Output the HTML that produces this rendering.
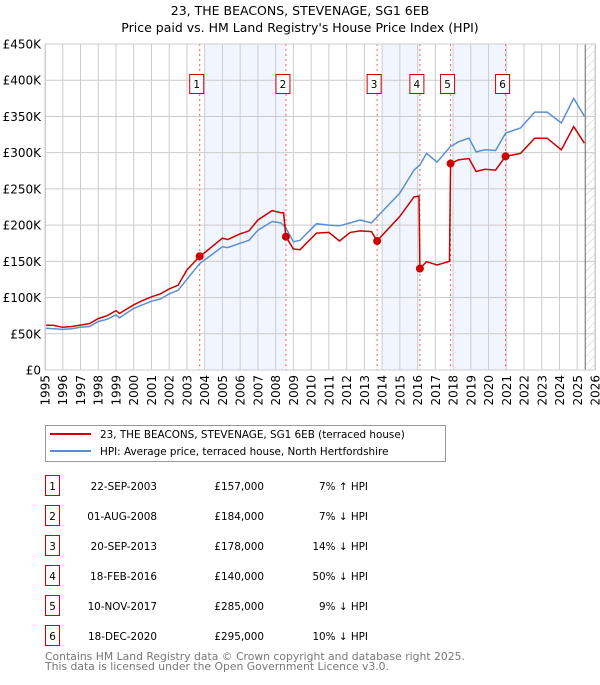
<!DOCTYPE html>
<html><head><meta charset="utf-8"><style>
body{margin:0;background:#fff;font-family:"Liberation Sans","DejaVu Sans",sans-serif;}
svg text{font-family:"DejaVu Sans","Liberation Sans",sans-serif;}
</style></head><body>
<svg id="chart" width="600" height="680" viewBox="0 0 600 680" xmlns="http://www.w3.org/2000/svg">
<defs><pattern id="hatch" width="6" height="6" patternUnits="userSpaceOnUse" patternTransform="rotate(45)"><line x1="0" y1="0" x2="0" y2="6" stroke="#ccc" stroke-width="1"/></pattern></defs>
<text x="300" y="15" text-anchor="middle" font-size="12.5" fill="#000">23, THE BEACONS, STEVENAGE, SG1 6EB</text>
<text x="300" y="32" text-anchor="middle" font-size="12.5" fill="#000">Price paid vs. HM Land Registry's House Price Index (HPI)</text>
<g id="plot"></g>
<g id="legend">
<rect x="45.5" y="425.5" width="400" height="36" fill="#fff" stroke="#999"/>
<line x1="50" y1="434" x2="91" y2="434" stroke="#cc0000" stroke-width="2"/>
<text x="100" y="438" font-size="10.4">23, THE BEACONS, STEVENAGE, SG1 6EB (terraced house)</text>
<line x1="50" y1="451" x2="91" y2="451" stroke="#5b8fd0" stroke-width="2"/>
<text x="100" y="455" font-size="10.4">HPI: Average price, terraced house, North Hertfordshire</text>
</g>
<g id="table"></g>
<text x="45" y="660" font-size="10.8" fill="#777">Contains HM Land Registry data © Crown copyright and database right 2025.</text>
<text x="45" y="670" font-size="10.8" fill="#777">This data is licensed under the Open Government Licence v3.0.</text>
</svg>
<script>
const hpiYears=[1995,1995.5,1996,1996.5,1997,1997.5,1998,1998.5,1999,1999.2,2000,2000.5,2001,2001.5,2002,2002.5,2003,2003.72,2004,2005,2005.3,2006,2006.5,2007,2007.8,2008.3,2008.58,2009,2009.37,2010.3,2011,2011.6,2012.2,2012.76,2013.4,2013.9,2015.0,2015.8,2016.13,2016.5,2017.1,2017.83,2018.3,2018.9,2019.3,2019.8,2020.4,2020.96,2021.8,2022.6,2023.3,2024.1,2024.8,2025.4];
const hpiValues=[57.5,57,56,57,59,60,67,70,76,72,85,90,95,98,105,110,125,147,152,170,169,175,179,193,205,203,196,177,179,202,200,199,203,207,203,216,244,276,283,299,287,308,315,320,301,304,303,327,334,356,356,341,375,350];
const priceYears=[1995,1995.5,1996,1996.5,1997,1997.5,1998,1998.5,1999,1999.2,2000,2000.5,2001,2001.5,2002,2002.5,2003,2003.72,2004,2005,2005.3,2006,2006.5,2007,2007.8,2008.3,2008.45,2008.58,2009,2009.37,2010.3,2011,2011.6,2012.2,2012.76,2013.4,2013.72,2013.9,2015.0,2015.8,2016.08,2016.13,2016.5,2017.1,2017.8,2017.86,2018.3,2018.9,2019.3,2019.8,2020.4,2020.96,2021.8,2022.6,2023.3,2024.1,2024.8,2025.4];
const priceValues=[62,61.5,59,60,62,64,71,75,82,78,90,96,101,105,112,117,138,157,162,182,180,188,192,207,220,217,217,184,167,166,189,190,178,190,192,191,178,183,212,239,240,140,149.5,145,150,285,290,292,274,277,276,295,299,320,320,304,336,313];
const saleYears=[2003.72,2008.58,2013.72,2016.13,2017.86,2020.96];
const salePrices=[157,184,178,140,285,295];
const shadeStart=[2004,2014,2018];
const shadeEnd=[2008.58,2016.13,2020.96];
const yTicks=[0,50,100,150,200,250,300,350,400,450];
const yTickLabels=["£0","£50K","£100K","£150K","£200K","£250K","£300K","£350K","£400K","£450K"];
const xTicks=[1995,1996,1997,1998,1999,2000,2001,2002,2003,2004,2005,2006,2007,2008,2009,2010,2011,2012,2013,2014,2015,2016,2017,2018,2019,2020,2021,2022,2023,2024,2025,2026];
const tableDates=["22-SEP-2003","01-AUG-2008","20-SEP-2013","18-FEB-2016","10-NOV-2017","18-DEC-2020"];
const tablePrices=["£157,000","£184,000","£178,000","£140,000","£285,000","£295,000"];
const tableHpi=["7% ↑ HPI","7% ↓ HPI","14% ↓ HPI","50% ↓ HPI","9% ↓ HPI","10% ↓ HPI"];
const dataEnd=2025.45;

const NS="http://www.w3.org/2000/svg";
const X0=45,X1=595,Y0=370,Y1=44;
const xs=y=>X0+(y-1995)/(2026-1995)*(X1-X0);
const ys=v=>Y0-(v/450)*(Y0-Y1);
function mk(tag,attrs,parent){const e=document.createElementNS(NS,tag);for(const k in attrs)e.setAttribute(k,attrs[k]);parent.appendChild(e);return e;}
const plot=document.getElementById('plot');
let bg=mk('rect',{x:X0,y:Y1,width:X1-X0,height:Y0-Y1,fill:'#fff'},plot);


shadeStart.forEach((s,i)=>{const r=mk('rect',{x:xs(s),y:Y1,width:xs(shadeEnd[i])-xs(s),height:Y0-Y1,fill:'#eef3fc',opacity:0.8},plot);

});
let h=mk('rect',{x:xs(dataEnd),y:Y1,width:X1-xs(dataEnd),height:Y0-Y1,fill:'url(#hatch)'},plot);


yTicks.forEach((t,i)=>{const l=mk('line',{x1:X0,x2:X1,y1:ys(t),y2:ys(t),stroke:'#ccc','stroke-width':1},plot);


const tx=mk('text',{x:X0-4,y:ys(t)+4.5,'text-anchor':'end','font-size':12},plot);tx.textContent=yTickLabels[i];

});
xTicks.forEach(t=>{const l=mk('line',{x1:xs(t),x2:xs(t),y1:Y1,y2:Y0,stroke:'#ccc','stroke-width':1},plot);


const tx=mk('text',{x:0,y:0,'text-anchor':'end','font-size':12,transform:`translate(${xs(t)+4.5},375) rotate(-90)`},plot);tx.textContent=t;

});
let dl=mk('line',{x1:xs(dataEnd),x2:xs(dataEnd),y1:Y1,y2:Y0,stroke:'#666','stroke-width':1},plot);


saleYears.forEach((s,i)=>{const l=mk('line',{x1:xs(s),x2:xs(s),y1:Y1,y2:Y0,stroke:'#f06060','stroke-width':1,'stroke-dasharray':'2,3'},plot);

});
const pts=(xa,va)=>xa.map((x,i)=>xs(x).toFixed(1)+','+ys(va[i]).toFixed(1)).join(' ');
let hl=mk('polyline',{points:pts(hpiYears,hpiValues),fill:'none',stroke:'#5b8fd0','stroke-width':1.5},plot);


let pl=mk('polyline',{points:pts(priceYears,priceValues),fill:'none',stroke:'#cc0000','stroke-width':1.5},plot);


saleYears.forEach((s,i)=>{const c=mk('circle',{cx:xs(s),cy:ys(salePrices[i]),r:4,fill:'#cc0000'},plot);


const bx=xs(s)-10;const g=mk('g',{},plot);


mk('rect',{x:bx,y:74.5,width:14,height:19,fill:'#fff',stroke:'#cc0000'},g);
const t=mk('text',{x:bx+7,y:88,'text-anchor':'middle','font-size':10.5},g);t.textContent=i+1;});
let bd=mk('rect',{x:X0+0.5,y:Y1,width:X1-X0,height:Y0-Y1,fill:'none',stroke:'#ccc'},plot);


const tb=document.getElementById('table');
tableDates.forEach((d,i)=>{const cy=486+i*30;const g=mk('g',{},tb);


mk('rect',{x:45.5,y:cy-10.5,width:14,height:20,fill:'#fff',stroke:'#cc0000'},g);
const n=mk('text',{x:52.5,y:cy+4,'text-anchor':'middle','font-size':10.4},g);n.textContent=i+1;
const a=mk('text',{x:157,y:cy+4,'text-anchor':'end','font-size':10.4},g);a.textContent=d;
const b=mk('text',{x:264,y:cy+4,'text-anchor':'end','font-size':10.4},g);b.textContent=tablePrices[i];
const c=mk('text',{x:368,y:cy+4,'text-anchor':'end','font-size':10.4},g);c.textContent=tableHpi[i];});
</script>
</body></html>
